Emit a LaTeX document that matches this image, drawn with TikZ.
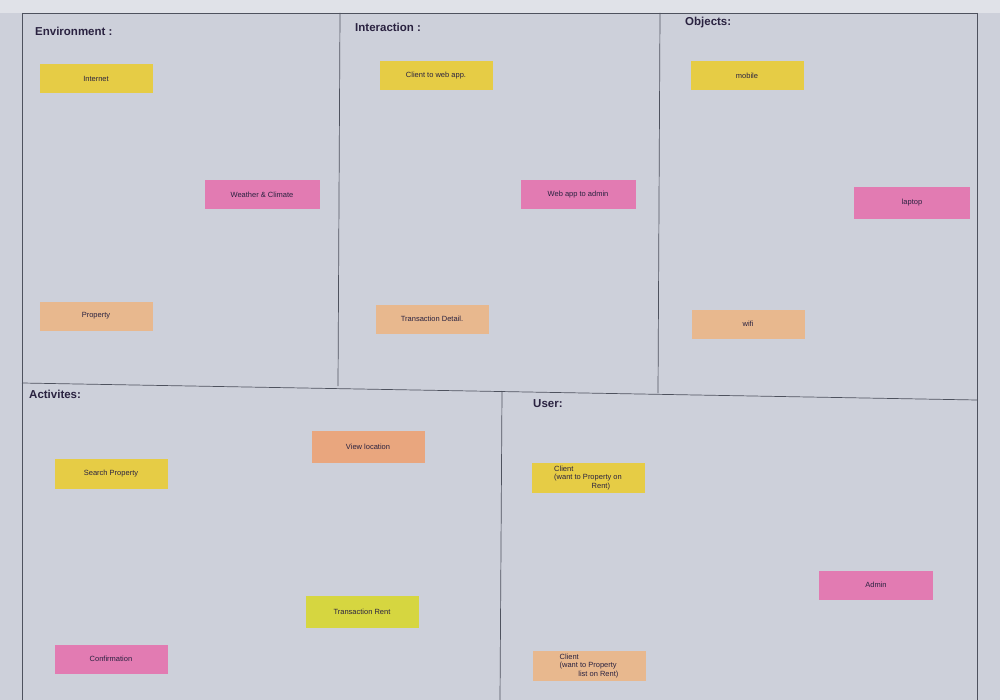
\documentclass[tikz,border=0pt]{standalone}
\usepackage{fontspec}
\setmainfont{Liberation Sans}
\definecolor{paper}{HTML}{CDD0DA}
\definecolor{paperlight}{HTML}{E0E2E8}
\definecolor{gridline}{HTML}{4E525E}
\definecolor{nyellow}{HTML}{E6CC45}
\definecolor{npink}{HTML}{E27BB2}
\definecolor{npeach}{HTML}{E8B88E}
\definecolor{norange}{HTML}{E9A67E}
\definecolor{ngreen}{HTML}{D6D640}
\definecolor{ink}{HTML}{2A2240}
\tikzset{
  x=1pt, y=-1pt,
  grid/.style={draw=gridline, line width=0.7pt},
  heading/.style={anchor=west, font=\bfseries\fontsize{11.5}{12}\selectfont, text=ink, inner sep=0pt},
  note/.style={minimum width=113pt, minimum height=29pt, inner sep=1pt, font=\fontsize{7.5}{8.6}\selectfont, text=ink, align=center},
  ynote/.style={note, fill=nyellow},
  pnote/.style={note, fill=npink},
  onote/.style={note, fill=npeach},
  rnote/.style={note, fill=norange},
  gnote/.style={note, fill=ngreen},
}
\begin{document}
\begin{tikzpicture}
\useasboundingbox (0,0) rectangle (1000,700);
\fill[paper] (0,0) rectangle (1000,700);
\fill[paperlight] (0,0) rectangle (1000,13);
% grid
\draw[grid] (22,13) -- (977,13);
\draw[grid] (22,13) -- (22,700);
\draw[grid] (977,13) -- (977,700);
\draw[grid] (340,13) -- (338,386);
\draw[grid] (660,13) -- (658,393);
\draw[grid] (22,383) -- (977,400);
\draw[grid] (502,391) -- (500,700);
% headings
\node[heading] (henv) at (35,31) {Environment :};
\node[heading] (hint) at (355,27) {Interaction :};
\node[heading] (hobj) at (685,23) {Objects:};
\node[heading] (hact) at (29,394) {Activites:};
\node[heading] (husr) at (533,404) {User:};
% Environment
\node[ynote] (internet) at (96,79) {Internet};
\node[pnote, minimum width=115pt] (weather) at (262,195) {Weather \& Climate};
\node[onote] (property) at (96,316) {Property};
% Interaction
\node[ynote] (c2w) at (436,76) {Client to web app.};
\node[pnote, minimum width=115pt] (w2a) at (578,195) {Web app to admin};
\node[onote] (tdetail) at (432,319) {Transaction Detail.};
% Objects
\node[ynote] (mobile) at (747,76) {mobile};
\node[pnote, minimum width=116pt, minimum height=32pt] (laptop) at (912,203) {laptop};
\node[onote] (wifi) at (748,324) {wifi};
% Activities
\node[rnote, minimum height=32pt] (viewloc) at (368,447) {View location};
\node[ynote, minimum height=30pt] (search) at (111,474) {Search Property};
\node[gnote, minimum height=32pt] (trent) at (362,612) {Transaction Rent};
\node[pnote] (confirm) at (111,659) {Confirmation};
% User
\node[ynote, minimum height=30pt, align=left] (client1) at (588,478) {Client\\(want to Property on\\\hspace*{5em}Rent)};
\node[pnote, minimum width=114pt] (admin) at (876,585) {Admin};
\node[onote, minimum height=30pt, align=left] (client2) at (589,666) {Client\\(want to Property\\\hspace*{2.5em}list on Rent)};
\end{tikzpicture}
\end{document}
